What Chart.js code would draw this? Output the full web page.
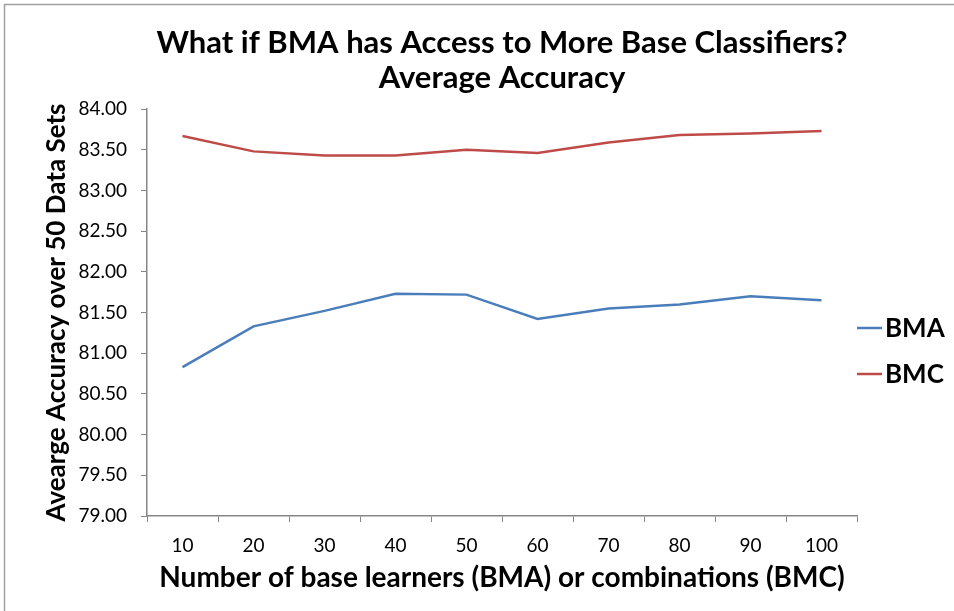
<!DOCTYPE html>
<html>
<head>
<meta charset="utf-8">
<script src="https://cdn.jsdelivr.net/npm/chart.js@4.4.1/dist/chart.umd.min.js"></script>
<style>
html,body{margin:0;padding:0;background:#fff;}
#wrap{width:954px;height:611px;position:relative;}
</style>
</head>
<body>
<div id="wrap"><canvas id="c" width="954" height="611"></canvas></div>
<script>
const categories = ["10","20","30","40","50","60","70","80","90","100"];
const bmaValues = [80.83, 81.33, 81.52, 81.73, 81.72, 81.42, 81.55, 81.60, 81.70, 81.65];
const bmcValues = [83.67, 83.48, 83.43, 83.43, 83.50, 83.46, 83.59, 83.68, 83.70, 83.73];
const seriesNames = ["BMA", "BMC"];
const seriesColors = ["#4A7EBB", "#BE4B48"];
const titleLines = ["What if BMA has Access to More Base Classifiers?", "Average Accuracy"];
const xTitle = "Number of base learners (BMA) or combinations (BMC)";
const yTitle = "Avearge Accuracy over 50 Data Sets";

const FONT = "Lato, 'Open Sans', 'DejaVu Sans', sans-serif";

const framePlugin = {
  id: 'frame',
  beforeDraw(chart) {
    const ctx = chart.ctx;
    ctx.save();
    ctx.fillStyle = '#fff';
    ctx.fillRect(0, 0, chart.width, chart.height);
    ctx.strokeStyle = '#a0a0a0';
    ctx.lineWidth = 1.5;
    ctx.beginPath();
    ctx.moveTo(4.5, chart.height);
    ctx.lineTo(4.5, 4.5);
    ctx.lineTo(chart.width, 4.5);
    ctx.stroke();
    ctx.restore();
  }
};

// Legend drawn to the right of the plot area, from the datasets
const sideLegend = {
  id: 'sideLegend',
  afterDraw(chart) {
    const ctx = chart.ctx;
    const area = chart.chartArea;
    const x0 = area.right;
    const yStart = 328, gap = 46;
    ctx.save();
    chart.data.datasets.forEach((ds, i) => {
      const y = yStart + i * gap;
      ctx.strokeStyle = ds.borderColor;
      ctx.lineWidth = 2.5;
      ctx.beginPath();
      ctx.moveTo(x0, y);
      ctx.lineTo(x0 + 25, y);
      ctx.stroke();
      ctx.fillStyle = '#000';
      ctx.font = "bold 26px " + FONT;
      ctx.textBaseline = 'middle';
      ctx.textAlign = 'left';
      ctx.fillText(ds.label, x0 + 28, y + 1);
    });
    ctx.restore();
  }
};

new Chart(document.getElementById('c'), {
  type: 'line',
  data: {
    labels: categories,
    datasets: [
      { label: seriesNames[0], data: bmaValues, borderColor: seriesColors[0], backgroundColor: seriesColors[0],
        borderWidth: 2.5, pointRadius: 0, tension: 0, fill: false },
      { label: seriesNames[1], data: bmcValues, borderColor: seriesColors[1], backgroundColor: seriesColors[1],
        borderWidth: 2.5, pointRadius: 0, tension: 0, fill: false }
    ]
  },
  options: {
    responsive: false,
    animation: false,
    devicePixelRatio: 1,
    layout: { padding: { left: 34, right: 97, top: 0, bottom: 8 } },
    plugins: {
      title: {
        display: true,
        fullSize: false,
        text: titleLines,
        color: '#000',
        font: { family: FONT, size: 31, weight: 'bold', lineHeight: 1.13 },
        padding: { top: 25, bottom: 14 }
      },
      legend: { display: false },
      tooltip: { enabled: false }
    },
    scales: {
      x: {
        type: 'category',
        offset: true,
        grid: { display: true, drawOnChartArea: false, offset: true, drawTicks: true, tickLength: 6, color: '#868686' },
        border: { display: true, color: '#868686', width: 1.5 },
        ticks: { color: '#000', font: { family: FONT, size: 19 }, padding: 12, maxRotation: 0 },
        title: { display: true, text: xTitle, color: '#000',
          font: { family: FONT, size: 28, weight: 'bold' }, padding: { top: 4, bottom: 8 } },
        afterFit(s) { s.height = 87; }
      },
      y: {
        min: 79, max: 84,
        ticks: { stepSize: 0.5, color: '#000', font: { family: FONT, size: 19 }, padding: 14,
          callback: v => Number(v).toFixed(2) },
        grid: { display: true, drawOnChartArea: false, drawTicks: true, tickLength: 6, color: '#868686' },
        border: { display: true, color: '#868686', width: 1.5 },
        title: { display: true, text: yTitle, color: '#000',
          font: { family: FONT, size: 26, weight: 'bold' }, padding: { top: 7, bottom: 2 } },
        afterFit(s) { s.width = 113; }
      }
    }
  },
  plugins: [framePlugin, sideLegend]
});
</script>
</body>
</html>
